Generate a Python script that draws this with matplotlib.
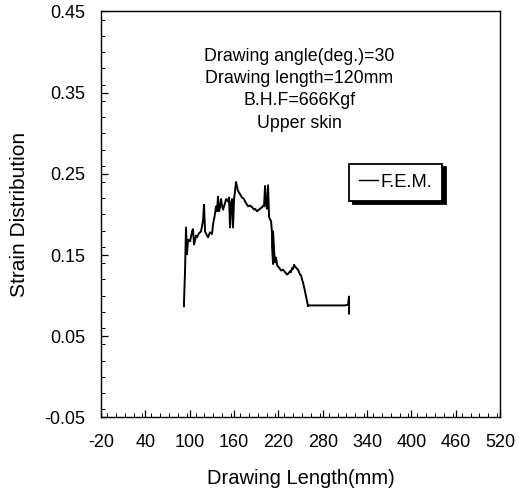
import numpy as np
import matplotlib
matplotlib.use("Agg")
import matplotlib.pyplot as plt
from matplotlib.ticker import MultipleLocator

plt.rcParams["font.family"] = ["Liberation Sans", "DejaVu Sans"]
plt.rcParams["xtick.labelsize"] = 13
plt.rcParams["ytick.labelsize"] = 13

# F.E.M. strain along the drawing length (upper skin)
length_mm = [
    92.3, 92.3, 93.7, 95.0, 96.4, 97.7, 100.5, 103.2, 104.5, 105.9, 108.6,
    109.9, 112.6, 115.3, 118.0, 119.4, 120.8, 123.5, 124.8, 127.5, 130.2,
    131.6, 134.3, 135.6, 137.0, 138.3, 139.7, 141.1, 142.4, 143.8, 145.1,
    147.8, 149.2, 151.9, 153.2, 154.6, 155.9, 157.3, 158.6, 160.0, 161.4,
    162.7, 164.1, 165.4, 168.1, 170.8, 173.5, 174.9, 177.6, 178.9, 181.7,
    184.4, 187.1, 188.4, 191.1, 192.5, 195.2, 197.9, 199.3, 200.6, 202.0,
    203.3, 204.7, 206.0, 207.4, 208.7, 210.1, 211.4, 211.4, 212.8, 212.8,
    214.2, 215.5, 216.8, 218.2, 219.5, 222.3, 223.6, 226.3, 229.0, 231.7,
    233.1, 235.8, 237.1, 238.5, 239.9, 241.2, 242.6, 245.3, 246.6, 249.3,
    250.7, 252.0, 253.4, 254.7, 256.1, 257.4, 258.8, 260.1, 261.5, 269.6,
    276.4, 289.9, 303.5, 310.2, 314.3, 315.6, 315.6,
]
strain = [
    0.087, 0.092, 0.130, 0.184, 0.151, 0.169, 0.167, 0.179, 0.182, 0.163,
    0.174, 0.172, 0.177, 0.179, 0.192, 0.212, 0.179, 0.174, 0.172, 0.178,
    0.176, 0.188, 0.201, 0.210, 0.204, 0.222, 0.204, 0.209, 0.219, 0.211,
    0.206, 0.214, 0.219, 0.216, 0.221, 0.184, 0.214, 0.219, 0.184, 0.219,
    0.229, 0.240, 0.234, 0.229, 0.225, 0.221, 0.219, 0.216, 0.212, 0.210,
    0.211, 0.209, 0.206, 0.207, 0.204, 0.205, 0.207, 0.209, 0.211, 0.210,
    0.235, 0.212, 0.207, 0.236, 0.197, 0.194, 0.192, 0.177, 0.161, 0.139,
    0.179, 0.155, 0.141, 0.147, 0.138, 0.136, 0.133, 0.131, 0.132, 0.129,
    0.126, 0.127, 0.130, 0.129, 0.134, 0.133, 0.138, 0.136, 0.133, 0.132,
    0.126, 0.125, 0.120, 0.116, 0.111, 0.105, 0.099, 0.093, 0.087, 0.088,
    0.088, 0.088, 0.088, 0.088, 0.088, 0.089, 0.099, 0.078,
]

x_ticks = [-20, 40, 100, 160, 220, 280, 340, 400, 460, 520]
y_ticks = [-0.05, 0.05, 0.15, 0.25, 0.35, 0.45]

info_lines = [
    "Drawing angle(deg.)=30",
    "Drawing length=120mm",
    "B.H.F=666Kgf",
    "Upper skin",
]

fig = plt.figure(figsize=(5.19, 4.88), dpi=100)
ax = fig.add_axes([0.1946, 0.1445, 0.769, 0.832])

ax.plot(length_mm, strain, color="black", linewidth=1.4, label="F.E.M.")

ax.set_xlim(-20, 520)
ax.set_ylim(-0.05, 0.45)
ax.set_xticks(x_ticks)
ax.set_xticklabels([str(v) for v in x_ticks])
ax.set_yticks(y_ticks)
ax.set_yticklabels([f"{v:.2f}" for v in y_ticks])
ax.xaxis.set_minor_locator(MultipleLocator(12))
ax.yaxis.set_minor_locator(MultipleLocator(0.02))
ax.tick_params(which="major", direction="in", length=5, width=0.9,
               top=False, right=False)
ax.tick_params(axis="x", which="major", pad=12)
ax.tick_params(axis="y", which="major", pad=11)
ax.tick_params(which="minor", direction="in", length=3, width=0.7,
               top=False, right=False)
for sp in ax.spines.values():
    sp.set_linewidth(1.0)

ax.set_xlabel("Drawing Length(mm)", fontsize=14.5, labelpad=13)
ax.set_ylabel("Strain Distribution", fontsize=15, labelpad=11)

for i, line in enumerate(info_lines):
    ax.text(0.497, 0.890 - i * 0.055, line, transform=ax.transAxes,
            ha="center", va="center", fontsize=12.8)

leg = ax.legend(loc="upper left", bbox_to_anchor=(0.622, 0.625),
                fontsize=13.2, frameon=True, fancybox=False,
                shadow={"color": "black", "alpha": 1.0, "ox": 2.5, "oy": -2.5},
                handlelength=1.0, handletextpad=0.15,
                borderpad=0.55, borderaxespad=0)
leg.get_frame().set_edgecolor("black")
leg.get_frame().set_linewidth(1.3)
leg.get_frame().set_alpha(1.0)
for h in leg.get_lines():
    h.set_linewidth(1.0)

fig.savefig("out.png", dpi=100)
